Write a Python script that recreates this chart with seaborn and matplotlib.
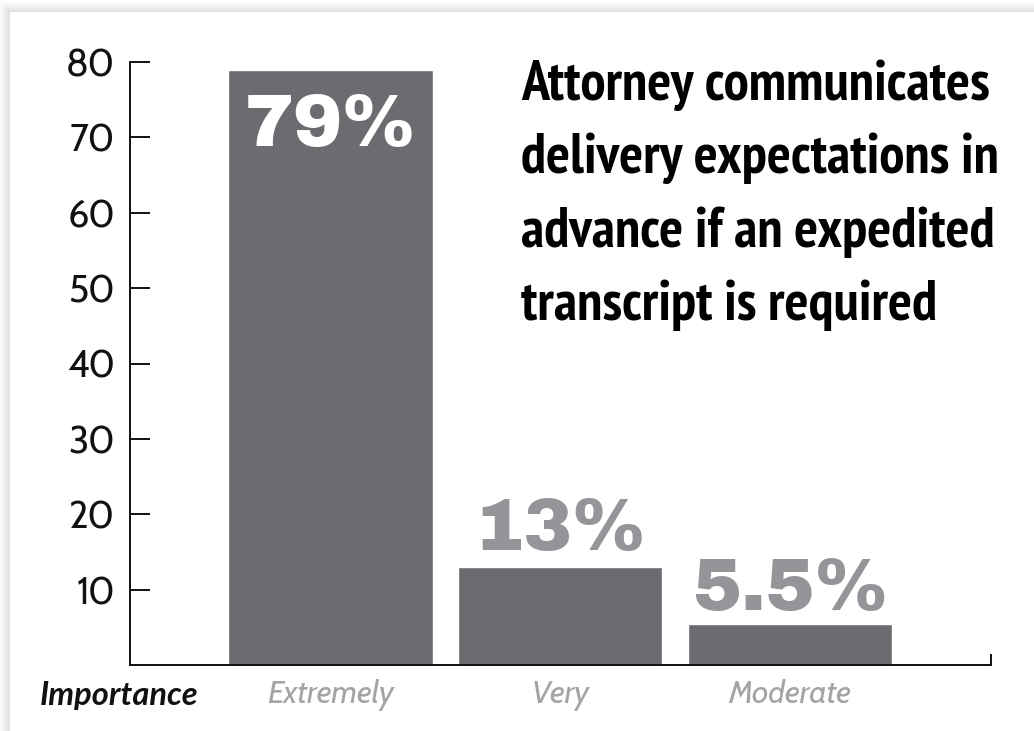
import matplotlib
matplotlib.use("Agg")
import matplotlib.pyplot as plt
from matplotlib.patches import Rectangle
import seaborn as sns
import pandas as pd

# Survey results
categories = ["Extremely", "Very", "Moderate"]
shares = [79, 13, 5.5]
share_labels = ["79%", "13%", "5.5%"]
y_ticks = [10, 20, 30, 40, 50, 60, 70, 80]
title_lines = [
    "Attorney communicates",
    "delivery expectations in",
    "advance if an expedited",
    "transcript is required",
]

BAR = "#6b6c70"
LIGHT = "#939598"
TICK_FONT = ["Cabin", "Lato", "DejaVu Sans"]
LABEL_FONT = ["Lato", "DejaVu Sans"]
VALUE_FONT = ["Archivo Black", "DejaVu Sans"]
TITLE_FONT = ["PT Sans Narrow", "DejaVu Sans"]

sns.set_theme(style="white")
plt.rcParams["font.family"] = TICK_FONT

W, H = 1034, 731
fig = plt.figure(figsize=(W / 100, H / 100), dpi=100)
fig.patch.set_facecolor("white")

# Card with a soft drop shadow
cx, cy = 10, 12
for k in range(10, 0, -1):
    fig.patches.append(Rectangle(((cx - k) / W, 0), (W - cx + k) / W, (H - cy + k) / H,
                                 transform=fig.transFigure, facecolor="#808080",
                                 alpha=0.025, edgecolor="none", zorder=-2))
fig.patches.append(Rectangle((cx / W, 0), (W - cx) / W, (H - cy) / H,
                             transform=fig.transFigure, facecolor="white",
                             edgecolor="none", zorder=-1))

# Axes placement in pixels
left, right, top, bottom = 130, 991, 62, 665
ax = fig.add_axes([left / W, 1 - bottom / H, (right - left) / W, (bottom - top) / H])
ax.set_facecolor("none")

df = pd.DataFrame({"importance": categories, "share": shares})
sns.barplot(data=df, x="importance", y="share", color=BAR, saturation=1,
            width=0.89, ax=ax, zorder=2)

ax.set_xlim(-0.873, 2.875)
ax.set_ylim(0, 80)
ax.set_yticks(y_ticks)
ax.set_yticklabels([str(t) for t in y_ticks], fontsize=27, color="#111111")
ax.tick_params(axis="y", left=True, direction="in", length=14.5, width=1.4,
               color="#111111", pad=11)
ax.tick_params(axis="x", bottom=False, length=0, pad=10)
for lbl in ax.get_xticklabels():
    lbl.set_fontsize(23)
    lbl.set_style("italic")
    lbl.set_color("#a3a4a6")
ax.set_xlabel("")
ax.set_ylabel("")

for s in ["left", "bottom", "right"]:
    ax.spines[s].set_visible(True)
    ax.spines[s].set_color("#111111")
    ax.spines[s].set_linewidth(1.4)
ax.spines["top"].set_visible(False)
ax.spines["right"].set_bounds(0, 1.3)

ax.text(-1.264, -0.026, "Importance", transform=ax.get_xaxis_transform(),
        ha="left", va="top", fontsize=23.5, fontstyle="italic", fontweight="bold",
        color="#111111", family=LABEL_FONT)

# Value labels
for i, (v, lab) in enumerate(zip(shares, share_labels)):
    if i == 0:
        ax.text(i, v - 3.0, lab, ha="center", va="top", fontsize=53,
                color="white", zorder=3, family=VALUE_FONT)
    else:
        ax.text(i, v + 2.2 if i == 1 else v + 1.8, lab, ha="center", va="baseline",
                fontsize=53, color=LIGHT, zorder=3, family=VALUE_FONT)

for j, line in enumerate(title_lines):
    fig.text(521 / W, 1 - (100 + j * 73.3) / H, line, ha="left", va="baseline",
             fontsize=40.5, fontweight="bold", color="black", family=TITLE_FONT)

fig.savefig("out.png", dpi=100, facecolor=fig.get_facecolor())
